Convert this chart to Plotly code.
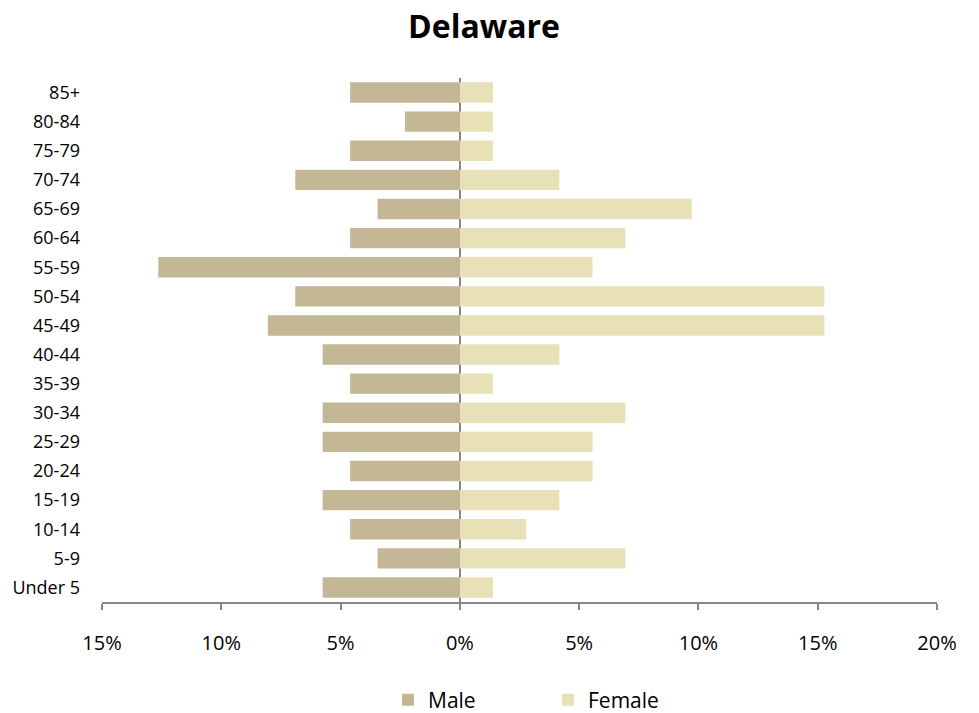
import plotly.graph_objects as go

age_groups = ["Under 5", "5-9", "10-14", "15-19", "20-24", "25-29", "30-34", "35-39",
              "40-44", "45-49", "50-54", "55-59", "60-64", "65-69", "70-74", "75-79",
              "80-84", "85+"]
male_pct = [5.75, 3.45, 4.60, 5.75, 4.60, 5.75, 5.75, 4.60,
            5.75, 8.05, 6.90, 12.64, 4.60, 3.45, 6.90, 4.60,
            2.30, 4.60]
female_pct = [1.39, 6.94, 2.78, 4.17, 5.56, 5.56, 6.94, 1.39,
              4.17, 15.28, 15.28, 5.56, 6.94, 9.72, 4.17, 1.39,
              1.39, 1.39]
tick_vals = [-15, -10, -5, 0, 5, 10, 15, 20]
tick_text = ["15%", "10%", "5%", "0%", "5%", "10%", "15%", "20%"]

FONT = "Open Sans"
AXIS_GRAY = "#868686"

fig = go.Figure()
fig.add_trace(go.Bar(
    y=age_groups, x=[-v for v in male_pct], name="Male", orientation="h",
    marker=dict(color="#C4B796", line=dict(width=0)),
))
fig.add_trace(go.Bar(
    y=age_groups, x=female_pct, name="Female", orientation="h",
    marker=dict(color="#E8E1B7", line=dict(width=0)),
))

fig.update_layout(
    width=979, height=713,
    paper_bgcolor="white", plot_bgcolor="white",
    margin=dict(l=102, r=42, t=78, b=111),
    barmode="relative", bargap=0.3,
    font=dict(family=FONT, color="#000000"),
    title=dict(text="<b>Delaware</b>", font=dict(family=FONT, size=32, color="#000000"),
               x=484 / 979, xanchor="center", xref="container",
               y=1 - 27 / 713, yanchor="middle", yref="container"),
    xaxis=dict(range=[-15, 20], tickvals=tick_vals, ticktext=tick_text,
               showgrid=False, showline=True, linecolor=AXIS_GRAY, linewidth=2,
               ticks="outside", ticklen=6, tickwidth=2, tickcolor=AXIS_GRAY,
               zeroline=True, zerolinecolor=AXIS_GRAY, zerolinewidth=2,
               tickfont=dict(size=20, family=FONT, color="#000000"),
               ticklabelstandoff=16, fixedrange=True),
    yaxis=dict(categoryorder="array", categoryarray=age_groups,
               showgrid=False, showline=False, ticks="", zeroline=False,
               tickfont=dict(size=18, family=FONT, color="#000000"),
               ticklabelstandoff=21, fixedrange=True),
    legend=dict(orientation="h", x=548 / 979, xanchor="center", xref="container",
                y=1 - 700 / 713, yanchor="middle", yref="container",
                font=dict(size=21, family=FONT, color="#000000"),
                entrywidth=115, entrywidthmode="pixels"),
    showlegend=True,
)

fig.write_html("out.html", config={"displayModeBar": False},
               post_script="document.body.style.margin='0px';")
